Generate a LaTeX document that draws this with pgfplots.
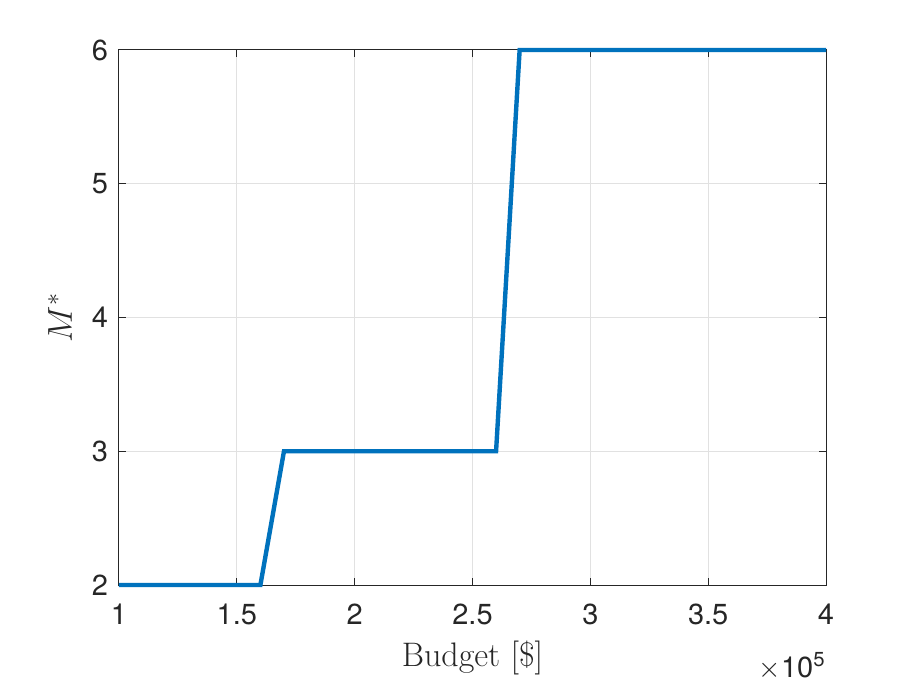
\documentclass[border=0pt]{standalone}
\usepackage{fontspec}
\usepackage{pgfplots}
\pgfplotsset{compat=1.18}
\newfontfamily\helv{TeX Gyre Heros}
\definecolor{mblue}{RGB}{0,114,189}
\definecolor{axgray}{RGB}{38,38,38}
\definecolor{gridgray}{RGB}{225,225,225}
\begin{document}
\begin{tikzpicture}
\path[use as bounding box, fill=white] (-59.5pt,-50pt) rectangle (397pt,292.5pt);
\begin{axis}[
  at={(0,0)}, anchor=south west,
  scale only axis,
  width=353.5pt, height=267.5pt,
  xmin=100000, xmax=400000, ymin=2, ymax=6,
  xtick={100000,150000,200000,250000,300000,350000,400000},
  xticklabels={1,1.5,2,2.5,3,3.5,4},
  scaled x ticks=false,
  ytick={2,3,4,5,6},
  tick align=inside,
  major tick length=3.5pt,
  axis line style={axgray, line width=0.5pt},
  every tick/.style={axgray, line width=0.5pt},
  grid=major,
  major grid style={gridgray, line width=0.5pt},
  /pgf/number format/assume math mode=true,
  ticklabel style={font=\helv\fontsize{14.5}{17}\selectfont, text=axgray},
  xticklabel style={yshift=-6pt},
  yticklabel style={xshift=-2pt},
  xlabel={Budget [\$]},
  ylabel={$M^*$},
  label style={font=\fontsize{17}{20}\selectfont, text=axgray},
  xlabel style={at={(axis description cs:0.5,0)}, anchor=base, yshift=-40.5pt},
  ylabel style={at={(axis description cs:0,0.5)}, anchor=base, yshift=23.5pt},
  clip=false,
]
\addplot[mblue, line width=2.2pt, line join=miter, mark=none] coordinates {
  (100000,2) (160000,2) (170000,3) (260000,3) (270000,6) (400000,6)
};
\node[anchor=base east, font=\helv\fontsize{14.5}{17}\selectfont, text=axgray, inner sep=0pt]
  at (rel axis cs:1,0) [yshift=-46pt] {$\times$10\textsuperscript{5}};
\end{axis}
\end{tikzpicture}
\end{document}
